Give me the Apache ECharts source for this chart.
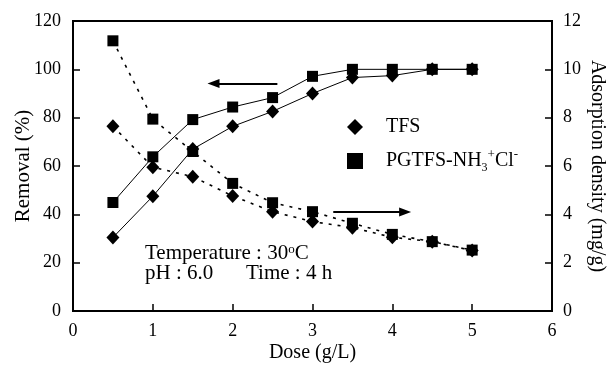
<!DOCTYPE html>
<html>
<head>
<meta charset="utf-8">
<script src="https://cdn.jsdelivr.net/npm/echarts@6/dist/echarts.min.js"></script>
<style>
  html, body { margin: 0; padding: 0; background: #fff; }
  #chart { width: 612px; height: 368px; }
</style>
</head>
<body>
<div id="chart"></div>
<script>
// dose (g/L)
const dose = [0.5, 1, 1.5, 2, 2.5, 3, 3.5, 4, 4.5, 5];
// removal (%) - left axis
const tfsRemoval = [30.4, 47.5, 67, 76.4, 82.6, 90, 96.6, 97.4, 100, 100];
const pgRemoval = [44.9, 63.8, 79.2, 84.4, 88.3, 97.1, 100, 100, 100, 100];
// adsorption density (mg/g) - right axis
const tfsDensity = [7.65, 5.95, 5.56, 4.76, 4.11, 3.7, 3.45, 3.05, 2.87, 2.5];
const pgDensity = [11.18, 7.94, 6.6, 5.28, 4.48, 4.11, 3.63, 3.17, 2.87, 2.52];

const xTicks = [0, 1, 2, 3, 4, 5, 6];
const leftTicks = [0, 20, 40, 60, 80, 100, 120];
const rightTicks = [0, 2, 4, 6, 8, 10, 12];

// arrows pointing at the axis each curve belongs to (data coords)
const leftArrow = [[2.56, 94.1], [1.76, 94.1]];
const rightArrow = [[3.26, 41], [4.16, 41]];

const FONT = 'Liberation Serif';
const BLACK = '#000';

const chart = echarts.init(document.getElementById('chart'), null, { renderer: 'canvas' });

function pairs(ys) {
  return dose.map((x, i) => [x, ys[i]]);
}

const solid = { color: BLACK, width: 1 };
const dashed = { color: BLACK, width: 1.6, type: [3, 6] };

const option = {
  backgroundColor: '#fff',
  animation: false,
  grid: {
    left: 73, right: 60, top: 21, bottom: 57,
    outerBoundsMode: 'none',
    containLabel: false,
    show: true, borderColor: BLACK, borderWidth: 2
  },
  legend: {
    orient: 'vertical',
    left: 347,
    top: 117,
    padding: 0,
    itemGap: 11,
    itemWidth: 16,
    itemHeight: 16,
    selectedMode: false,
    data: [
      { name: 'TFS', icon: 'diamond' },
      { name: 'PGTFS', icon: 'rect' }
    ],
    formatter: function (name) {
      if (name === 'TFS') return '{g| }{n|TFS}';
      return '{g| }{n|PGTFS-NH}{sub|3}{sup|+}{n|Cl}{sup|-}';
    },
    textStyle: {
      color: BLACK,
      fontFamily: FONT,
      fontSize: 20,
      rich: {
        g: { width: 18 },
        n: { fontFamily: FONT, fontSize: 20, lineHeight: 26, color: BLACK },
        sub: { fontFamily: FONT, fontSize: 12, verticalAlign: 'bottom', color: BLACK },
        sup: { fontFamily: FONT, fontSize: 13, verticalAlign: 'top', color: BLACK }
      }
    }
  },
  xAxis: {
    type: 'value',
    min: xTicks[0],
    max: xTicks[xTicks.length - 1],
    interval: 1,
    name: 'Dose (g/L)',
    nameLocation: 'middle',
    nameGap: 32,
    nameMoveOverlap: false,
    nameTextStyle: { color: BLACK, fontFamily: FONT, fontSize: 20 },
    axisLine: { lineStyle: { color: BLACK, width: 2 } },
    axisTick: { inside: true, length: 7, lineStyle: { color: BLACK, width: 1.5 } },
    axisLabel: { color: BLACK, fontFamily: FONT, fontSize: 18, margin: 11 },
    splitLine: { show: false }
  },
  yAxis: [
    {
      type: 'value',
      min: leftTicks[0],
      max: leftTicks[leftTicks.length - 1],
      interval: 20,
      name: 'Removal (%)',
      nameLocation: 'middle',
      nameRotate: 90,
      nameGap: 39,
      nameMoveOverlap: false,
      nameTextStyle: { color: BLACK, fontFamily: FONT, fontSize: 21 },
      axisLine: { show: true, lineStyle: { color: BLACK, width: 2 } },
      axisTick: { show: true, inside: true, length: 7, lineStyle: { color: BLACK, width: 1.5 } },
      axisLabel: { color: BLACK, fontFamily: FONT, fontSize: 18, margin: 12 },
      splitLine: { show: false }
    },
    {
      type: 'value',
      position: 'right',
      min: rightTicks[0],
      max: rightTicks[rightTicks.length - 1],
      interval: 2,
      name: 'Adsorption density (mg/g)',
      nameLocation: 'middle',
      nameRotate: -90,
      nameGap: 35,
      nameMoveOverlap: false,
      nameTextStyle: { color: BLACK, fontFamily: FONT, fontSize: 20 },
      axisLine: { show: true, lineStyle: { color: BLACK, width: 2 } },
      axisTick: { show: true, inside: true, length: 7, lineStyle: { color: BLACK, width: 1.5 } },
      axisLabel: { color: BLACK, fontFamily: FONT, fontSize: 18, margin: 11 },
      splitLine: { show: false }
    }
  ],
  series: [
    {
      name: 'TFS',
      type: 'line',
      yAxisIndex: 0,
      data: pairs(tfsRemoval),
      symbol: 'diamond',
      symbolSize: [13, 14],
      lineStyle: solid,
      itemStyle: { color: BLACK },
      z: 3,
      markLine: {
        silent: true,
        symbol: ['none', 'triangle'],
        symbolSize: [9, 12],
        label: { show: false },
        lineStyle: { color: BLACK, width: 2, type: 'solid' },
        data: [
          [{ coord: leftArrow[0] }, { coord: leftArrow[1] }],
          [{ coord: rightArrow[0] }, { coord: rightArrow[1] }]
        ]
      }
    },
    {
      name: 'PGTFS',
      type: 'line',
      yAxisIndex: 0,
      data: pairs(pgRemoval),
      symbol: 'rect',
      symbolSize: 11,
      lineStyle: solid,
      itemStyle: { color: BLACK },
      z: 3
    },
    {
      name: 'TFS',
      type: 'line',
      yAxisIndex: 1,
      data: pairs(tfsDensity),
      symbol: 'diamond',
      symbolSize: [13, 14],
      lineStyle: dashed,
      itemStyle: { color: BLACK },
      z: 2
    },
    {
      name: 'PGTFS',
      type: 'line',
      yAxisIndex: 1,
      data: pairs(pgDensity),
      symbol: 'rect',
      symbolSize: 11,
      lineStyle: dashed,
      itemStyle: { color: BLACK },
      z: 2
    }
  ],
  graphic: [
    {
      type: 'text',
      left: 145,
      top: 243,
      style: {
        text: 'Temperature : 30{sup|o}C',
        fill: BLACK,
        fontFamily: FONT,
        fontSize: 21,
        rich: { sup: { fontFamily: FONT, fontSize: 13, verticalAlign: 'top', fill: BLACK } }
      }
    },
    {
      type: 'text',
      left: 145,
      top: 263,
      style: { text: 'pH : 6.0', fill: BLACK, fontFamily: FONT, fontSize: 21 }
    },
    {
      type: 'text',
      left: 246,
      top: 263,
      style: { text: 'Time : 4 h', fill: BLACK, fontFamily: FONT, fontSize: 21 }
    }
  ]
};

chart.setOption(option);
</script>
</body>
</html>
